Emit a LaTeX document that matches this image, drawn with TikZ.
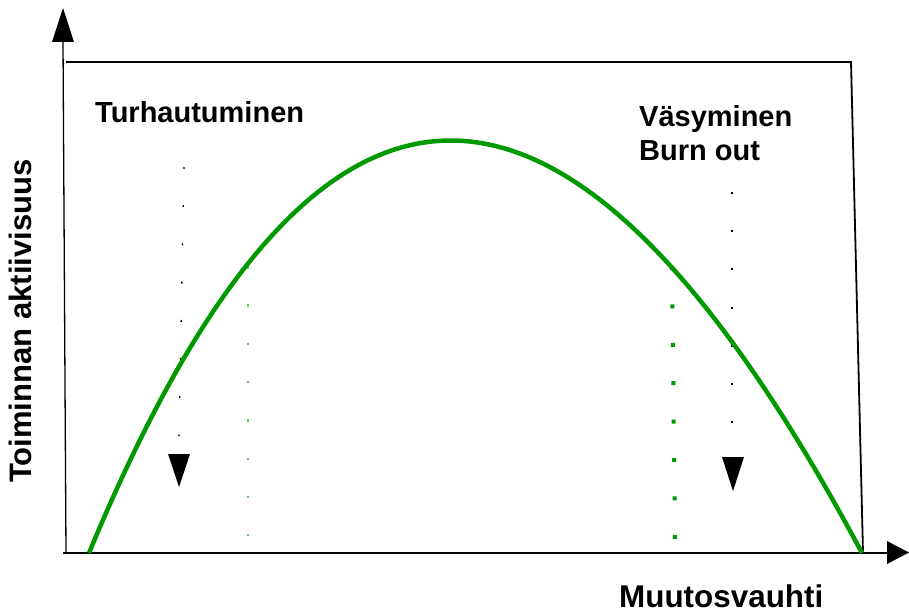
\documentclass[tikz,border=0pt]{standalone}
\usepackage{fontspec}
\setmainfont{Liberation Sans}
\definecolor{curvegreen}{RGB}{0,153,0}
\definecolor{lightgreen}{RGB}{110,190,110}
\begin{document}
\begin{tikzpicture}[x=1pt,y=-1pt,
  lbl/.style={inner sep=0pt,font=\bfseries\fontsize{29}{34}\selectfont},
  axisline/.style={line width=1.3pt,black},
  tri/.style={fill=black,draw=none},
  blackdots/.style={line width=1.3pt,black,dash pattern=on 2pt off 36.2pt},
]
\useasboundingbox (0,0) rectangle (909,615);
% axes
\draw[axisline] (66,553) -- (63,42);
\fill[tri] (52,42) -- (74,42) -- (63,8) -- cycle;
\draw[axisline] (63,553) -- (887,553);
\fill[tri] (887,541) -- (887,564) -- (909,552.5) -- cycle;
% box
\draw[line width=1.8pt] (66,62) -- (851,62) -- (863,553);
% dotted guides
\draw[blackdots] (184,167) -- (179,437);
\fill[tri] (168,454) -- (190,454) -- (179,487) -- cycle;
\draw[blackdots] (732,192) -- (732,423);
\fill[tri] (722,457) -- (744,457) -- (733,491) -- cycle;
\draw[lightgreen,line width=1.6pt,dash pattern=on 2.5pt off 35.8pt] (248,266) -- (248,536);
\draw[curvegreen,line width=4pt,dash pattern=on 4pt off 34.4pt] (672,266) -- (675,539);
% curve
\draw[curvegreen,line width=4.5pt] (89,553) .. controls (317,3) and (568,3) .. (862,553);
% labels
\node[lbl,anchor=base west] (t1) at (95,122) {Turhautuminen};
\node[lbl,anchor=base west] (t2) at (639,126) {Väsyminen};
\node[lbl,anchor=base west] (t3) at (639,160) {Burn out};
\node[lbl,anchor=base west,font=\bfseries\fontsize{31.4}{34}\selectfont] (t4) at (619,607) {Muutosvauhti};
\node[lbl,anchor=base west,rotate=90,font=\bfseries\fontsize{31}{34}\selectfont] (t5) at (31,483) {Toiminnan aktiivisuus};
\end{tikzpicture}
\end{document}
